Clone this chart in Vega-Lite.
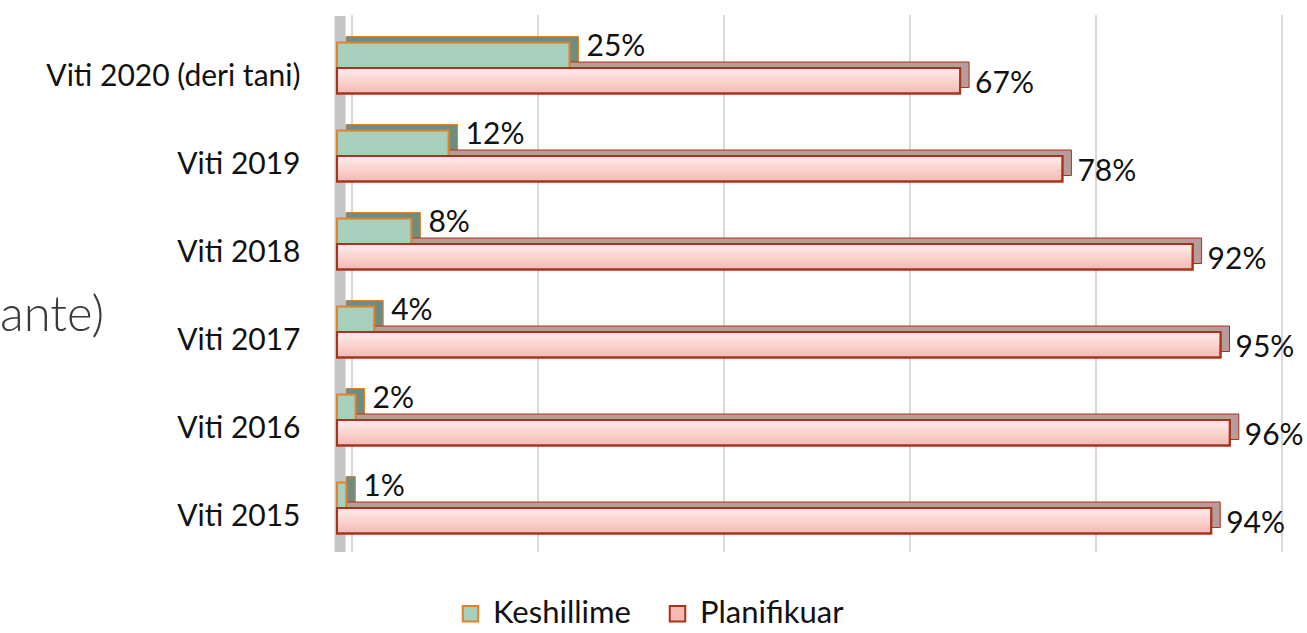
{
  "$schema": "https://vega.github.io/schema/vega-lite/v6.json",
  "width": 930,
  "height": 528,
  "autosize": {"type": "none"},
  "padding": {"left": 337, "top": 24, "right": 40, "bottom": 81},
  "background": "white",
  "config": {"view": {"stroke": null}, "font": "Lato"},
  "title": {"text": "ante)", "anchor": "start", "frame": "group", "dx": -337, "dy": 334, "fontSize": 49, "fontWeight": 300, "color": "#3a3a3a", "font": "Lato"},
  "datasets": {
    "bars": [
      {"year": "Viti 2020 (deri tani)", "series": "Keshillime", "value": 25, "label": "25%"},
      {"year": "Viti 2020 (deri tani)", "series": "Planifikuar", "value": 67, "label": "67%"},
      {"year": "Viti 2019", "series": "Keshillime", "value": 12, "label": "12%"},
      {"year": "Viti 2019", "series": "Planifikuar", "value": 78, "label": "78%"},
      {"year": "Viti 2018", "series": "Keshillime", "value": 8, "label": "8%"},
      {"year": "Viti 2018", "series": "Planifikuar", "value": 92, "label": "92%"},
      {"year": "Viti 2017", "series": "Keshillime", "value": 4, "label": "4%"},
      {"year": "Viti 2017", "series": "Planifikuar", "value": 95, "label": "95%"},
      {"year": "Viti 2016", "series": "Keshillime", "value": 2, "label": "2%"},
      {"year": "Viti 2016", "series": "Planifikuar", "value": 96, "label": "96%"},
      {"year": "Viti 2015", "series": "Keshillime", "value": 1, "label": "1%"},
      {"year": "Viti 2015", "series": "Planifikuar", "value": 94, "label": "94%"}
    ],
    "grid": [{"v": 0}, {"v": 20}, {"v": 40}, {"v": 60}, {"v": 80}, {"v": 100}]
  },
  "layer": [
    {
      "data": {"name": "grid"},
      "mark": {"type": "rule", "color": "#d9d9d9", "strokeWidth": 2, "xOffset": 15, "yOffset": -9, "y2Offset": -7},
      "encoding": {"x": {"field": "v", "type": "quantitative", "scale": {"domain": [0, 100]}, "axis": null}}
    },
    {
      "data": {"values": [{"v": 0}]},
      "mark": {"type": "rule", "color": "#c6c6c6", "strokeWidth": 11, "xOffset": 3, "yOffset": -8, "y2Offset": -4},
      "encoding": {"x": {"field": "v", "type": "quantitative", "scale": {"domain": [0, 100]}, "axis": null}}
    },
    {
      "data": {"name": "bars"},
      "mark": {"type": "bar", "xOffset": 9, "x2Offset": 9, "strokeWidth": 1},
      "encoding": {
        "y": {"field": "year", "type": "nominal", "sort": null, "axis": null, "scale": {"range": [-6, 522], "paddingInner": 0.42, "paddingOuter": 0.21}},
        "yOffset": {"field": "series", "type": "nominal", "scale": {"domain": ["Keshillime", "Planifikuar"]}},
        "x": {"field": "value", "type": "quantitative", "scale": {"domain": [0, 100]}, "axis": null},
        "fill": {"condition": {"test": "datum.series === 'Keshillime'", "value": "#6f8c80"}, "value": "#b89c9b"},
        "stroke": {"condition": {"test": "datum.series === 'Keshillime'", "value": "#e0822a"}, "value": "#a8321a"}
      }
    },
    {
      "data": {"name": "bars"},
      "mark": {"type": "bar", "strokeWidth": 2},
      "encoding": {
        "y": {"field": "year", "type": "nominal", "sort": null, "scale": {"paddingInner": 0.42, "paddingOuter": 0.21},
          "axis": {"title": null, "domain": false, "ticks": false, "grid": false, "labelFontSize": 30, "labelFont": "Lato", "labelColor": "#111111", "labelPadding": 37, "labelOffset": 9, "labelLimit": 0}},
        "yOffset": {"field": "series", "type": "nominal", "scale": {"domain": ["Keshillime", "Planifikuar"]}},
        "x": {"field": "value", "type": "quantitative", "scale": {"domain": [0, 100]}, "axis": null},
        "fill": {"field": "series", "type": "nominal", "scale": {"domain": ["Keshillime", "Planifikuar"], "range": ["#a8cfbd", "#f6b9b3"]},
          "legend": {"title": null, "orient": "none", "legendX": 118, "legendY": 574, "direction": "horizontal", "symbolType": "square", "symbolSize": 240, "symbolStrokeWidth": 2, "labelFontSize": 31, "labelFont": "Lato", "labelColor": "#111111", "columnPadding": 31, "labelOffset": 7, "labelLimit": 0, "padding": 0}},
        "stroke": {"field": "series", "type": "nominal", "scale": {"domain": ["Keshillime", "Planifikuar"], "range": ["#e0822a", "#a8321a"]},
          "legend": {"title": null, "orient": "none", "legendX": 118, "legendY": 574, "direction": "horizontal", "symbolType": "square", "symbolSize": 240, "symbolStrokeWidth": 2, "labelFontSize": 31, "labelFont": "Lato", "labelColor": "#111111", "columnPadding": 31, "labelOffset": 7, "labelLimit": 0, "padding": 0}}
      }
    },
    {
      "data": {"name": "bars"},
      "transform": [{"filter": "datum.series === 'Planifikuar'"}],
      "mark": {"type": "bar", "strokeWidth": 2, "stroke": "#a8321a",
        "fill": {"gradient": "linear", "x1": 0, "y1": 0, "x2": 0, "y2": 1, "stops": [{"offset": 0, "color": "rgba(255,255,255,0.75)"}, {"offset": 1, "color": "rgba(255,255,255,0)"}]}},
      "encoding": {
        "y": {"field": "year", "type": "nominal", "sort": null, "axis": null, "scale": {"paddingInner": 0.42, "paddingOuter": 0.21}},
        "yOffset": {"field": "series", "type": "nominal", "scale": {"domain": ["Keshillime", "Planifikuar"]}},
        "x": {"field": "value", "type": "quantitative", "scale": {"domain": [0, 100]}, "axis": null}
      }
    },
    {
      "data": {"name": "bars"},
      "transform": [{"filter": "datum.series === 'Keshillime'"}],
      "mark": {"type": "text", "align": "left", "baseline": "middle", "dx": 17, "dy": -8, "fontSize": 30, "font": "Lato", "color": "#111111"},
      "encoding": {
        "y": {"field": "year", "type": "nominal", "sort": null, "axis": null, "scale": {"paddingInner": 0.42, "paddingOuter": 0.21}},
        "yOffset": {"field": "series", "type": "nominal", "scale": {"domain": ["Keshillime", "Planifikuar"]}},
        "x": {"field": "value", "type": "quantitative", "scale": {"domain": [0, 100]}, "axis": null},
        "text": {"field": "label"}
      }
    },
    {
      "data": {"name": "bars"},
      "transform": [{"filter": "datum.series === 'Planifikuar'"}],
      "mark": {"type": "text", "align": "left", "baseline": "middle", "dx": 15, "dy": 3, "fontSize": 30, "font": "Lato", "color": "#111111"},
      "encoding": {
        "y": {"field": "year", "type": "nominal", "sort": null, "axis": null, "scale": {"paddingInner": 0.42, "paddingOuter": 0.21}},
        "yOffset": {"field": "series", "type": "nominal", "scale": {"domain": ["Keshillime", "Planifikuar"]}},
        "x": {"field": "value", "type": "quantitative", "scale": {"domain": [0, 100]}, "axis": null},
        "text": {"field": "label"}
      }
    }
  ],
  "resolve": {"scale": {"y": "independent", "yOffset": "independent"}}
}
